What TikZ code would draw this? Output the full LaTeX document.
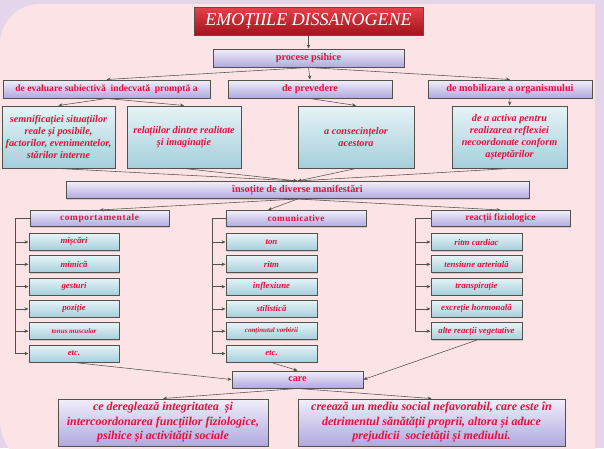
\documentclass[tikz,border=0pt]{standalone}
\usepackage{fontspec}
\setmainfont{Liberation Serif}
\usepackage{tikz}
\usetikzlibrary{arrows.meta, positioning, shadows}
\definecolor{BgLilac}{HTML}{E4D5EA}
\definecolor{BgPink}{HTML}{FCE4E6}
\definecolor{TxtRed}{HTML}{E3123D}
\definecolor{Edge}{HTML}{52524A}
\definecolor{LilacTop}{HTML}{F1EEFA}
\definecolor{LilacBot}{HTML}{B0A9DE}
\definecolor{BlueTop}{HTML}{E6F3F6}
\definecolor{BlueBot}{HTML}{A5CFDB}
\definecolor{TitleTop}{HTML}{E4424A}
\definecolor{TitleBot}{HTML}{A3121D}
\newcommand\smallitem{\fontsize{7}{8}\selectfont}

\begin{document}
\begin{tikzpicture}[x=1pt, y=-1pt, >={Stealth[length=4pt, width=3.4pt]},
  link/.style={->, Edge, line width=0.55pt},
  box/.style={draw=Edge, line width=1pt, inner sep=1pt, align=center,
    text=TxtRed, font=\bfseries,
    drop shadow={shadow xshift=1pt, shadow yshift=-1pt, opacity=0.3}},
  lilac/.style={box, top color=LilacTop, bottom color=LilacBot},
  blue/.style={box, top color=BlueTop, bottom color=BlueBot},
  head/.style={lilac, minimum height=18, font=\bfseries\fontsize{10.2}{12}\selectfont},
  group/.style={lilac, minimum width=139, minimum height=16, font=\bfseries\fontsize{9.3}{10}\selectfont},
  idea/.style={blue, minimum width=114, minimum height=62, font=\bfseries\itshape\fontsize{10.2}{12}\selectfont},
  item/.style={blue, minimum width=90, minimum height=17, font=\bfseries\itshape\fontsize{8.8}{10}\selectfont},
  result/.style={lilac, minimum height=47, font=\bfseries\itshape\fontsize{12}{14.5}\selectfont}]
  \clip (0,0) rectangle (604,448);
  % Background
  \fill[BgLilac] (0,0) rectangle (604,448);
  \fill[BgPink] (595,4) -- (40,4) arc[start angle=270, end angle=180, radius=40]
    -- (0,420) arc[start angle=180, end angle=90, radius=50] -- (595,470) -- cycle;
  % Title
  \node[box, top color=TitleTop, bottom color=TitleBot, text=white,
    minimum width=229, minimum height=28, font=\itshape\fontsize{18}{20}\selectfont]
    (title) at (308.5,21) {EMOȚIILE DISSANOGENE};
  \node[head, minimum width=191] (procese) at (308.5,58) {procese psihice};
  % Three kinds of processes
  \node[head, minimum width=207, font=\bfseries\fontsize{9.6}{11}\selectfont] (eval) at (106.5,89) {de evaluare subiectivă~ indecvată~ promptă a};
  \node[head, minimum width=164] (prev) at (310,89) {de prevedere};
  \node[head, minimum width=164] (mobil) at (510,89) {de mobilizare a organismului};
  \node[idea, minimum width=113] (semn) at (58.5,137) {semnificației situațiilor\\ reale și posibile,\\ factorilor, evenimentelor,\\ stărilor interne};
  \node[idea] (relat) at (184,137) {relațiilor dintre realitate\\ și imaginație};
  \node[idea, minimum width=116] (conse) at (356,137) {a consecințelor\\ acestora};
  \node[idea, minimum width=115] (activ) at (509.5,137) {de a activa pentru\\ realizarea reflexiei\\ necoordonate conform\\ așteptărilor};
  \node[head, minimum width=463, minimum height=17] (insot) at (297.5,190) {însoțite de diverse manifestări};
  % Manifestations
  \node[group] (comp) at (99.5,218.5) {\addfontfeature{LetterSpace=7}comportamentale};
  \node[group, minimum width=140] (comu) at (296,218.5) {\addfontfeature{LetterSpace=4}comunicative};
  \node[group, font=\bfseries\fontsize{9.7}{10}\selectfont] (reac) at (500.5,218.5) {reacții fiziologice};
  \foreach \t [count=\i] in {mișcări, mimică, gesturi, poziție, \smallitem tonus muscular, etc.}
    \node[item] (c\i) at (74,219.7+22.3*\i) {\t};
  \foreach \t [count=\i] in {ton, ritm, inflexiune, stilistică, \smallitem conținutul vorbirii, etc.}
    \node[item, minimum width=91] (m\i) at (271.5,219.7+22.3*\i) {\t};
  \foreach \t [count=\i] in {ritm cardiac, tensiune arterială, transpirație, excreție hormonală, alte reacții vegetative}
    \node[item, minimum width=91] (r\i) at (476.5,219.7+22.3*\i) {\t};
  % Consequences
  \node[head, minimum width=131, minimum height=17] (care) at (297.5,379.5) {care};
  \node[result, minimum width=210] (dereg) at (163,422.5) {ce deregleaz\u{a} integritatea~ și\\ intercoordonarea funcțiilor fiziologice,\\ psihice și activității sociale};
  \node[result, minimum width=267] (mediu) at (431.5,422.5) {creează un mediu social nefavorabil, care este în\\ detrimentul sănătății proprii, altora și aduce\\ prejudicii~ societății și mediului.};
  % Connectors
  \draw[link] (title) -- (procese);
  \draw[link] (procese.south) -- (eval.north);
  \draw[link] (procese.south) -- (prev.north);
  \draw[link] (procese.south) -- (mobil.north);
  \draw[link] (eval.south) -- (semn.north);
  \draw[link] (eval.south) -- (relat.north);
  \draw[link] (prev.south) -- (conse.north);
  \draw[link] (mobil.south) -- (activ.north);
  \draw[link] (semn.south) -- (insot.north);
  \draw[link] (relat.south) -- (insot.north);
  \draw[link] (conse.south) -- (insot.north);
  \draw[link] (activ.south) -- (insot.north);
  \draw[link] (insot.south) -- (comp.north);
  \draw[link] (insot.south) -- ([xshift=-28pt]comu.north);
  \draw[link] (insot.south) -- (reac.north);
  \foreach \i in {1,...,6} {
    \draw[link] (comp.west) -- ++(-14,0) |- (c\i.west);
    \draw[link] (comu.west) -- ++(-13,0) |- (m\i.west);
  }
  \foreach \i in {1,...,5}
    \draw[link] (reac.west) -- ++(-15,0) |- (r\i.west);
  \draw[link] (c6.south) -- (care.west);
  \draw[link] (m6.south) -- (care.north);
  \draw[link] (r5.south) -- (care.east);
  \draw[link] (care.south) -- (dereg.north);
  \draw[link] (care.south) -- (mediu.north);
\end{tikzpicture}
\end{document}
